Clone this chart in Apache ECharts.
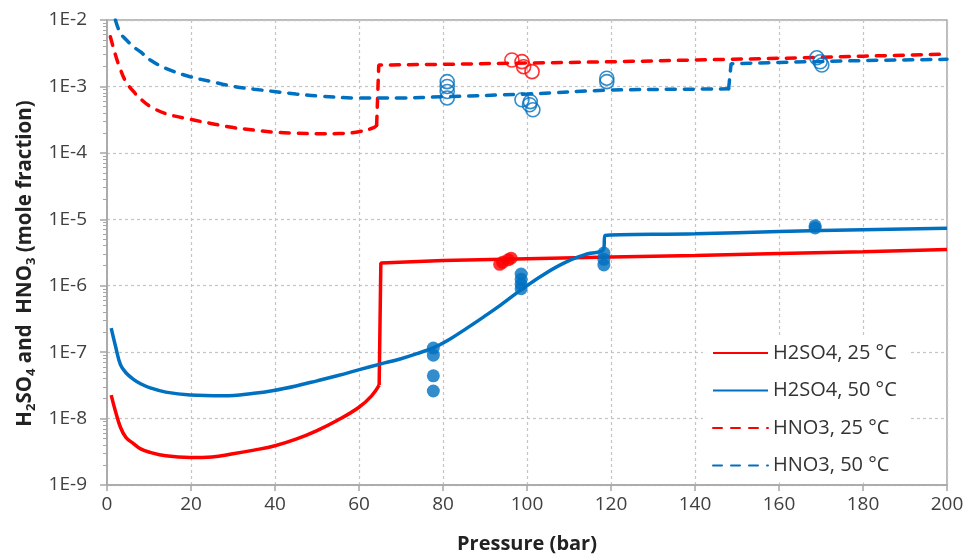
<!DOCTYPE html>
<html>
<head>
<meta charset="utf-8">
<script src="https://cdn.jsdelivr.net/npm/echarts@6/dist/echarts.min.js"></script>
<style>
html,body{margin:0;padding:0;background:#fff;}
#chart{width:970px;height:559px;}
</style>
</head>
<body>
<div id="chart"></div>
<script>
// ---- Data ----
const xTicks = [0, 20, 40, 60, 80, 100, 120, 140, 160, 180, 200];
const yTickLabels = ['1E-9','1E-8','1E-7','1E-6','1E-5','1E-4','1E-3','1E-2'];

// Model curves
const h2so4_25_x = [1, 2, 3.2, 4.5, 6.3, 8, 10.3, 14, 19.8, 25, 30, 35, 40, 45, 50, 55, 60, 63, 64.8, 65.2, 80, 100, 120, 140, 160, 180, 200];
const h2so4_25_y = [2.26e-8, 1.3e-8, 7.4e-9, 5.2e-9, 4.2e-9, 3.5e-9, 3.1e-9, 2.75e-9, 2.6e-9, 2.65e-9, 2.95e-9, 3.35e-9, 3.9e-9, 4.9e-9, 6.6e-9, 9.5e-9, 1.48e-8, 2.2e-8, 3.2e-8, 2.2e-6, 2.4e-6, 2.55e-6, 2.7e-6, 2.85e-6, 3.05e-6, 3.25e-6, 3.5e-6];

const h2so4_50_x = [1, 2, 3.2, 4.5, 6.3, 8, 10.3, 14, 19.8, 27.8, 35, 39.7, 45, 50, 55, 60.3, 65, 69.8, 73.8, 77.8, 81.7, 85.7, 89.7, 93.7, 98.4, 104, 109.5, 114.3, 118.2, 118.6, 140, 160, 180, 200];
const h2so4_50_y = [2.3e-7, 1.25e-7, 6.5e-8, 4.9e-8, 3.9e-8, 3.35e-8, 2.9e-8, 2.5e-8, 2.26e-8, 2.2e-8, 2.4e-8, 2.65e-8, 3.1e-8, 3.7e-8, 4.45e-8, 5.5e-8, 6.6e-8, 7.9e-8, 9.5e-8, 1.17e-7, 1.58e-7, 2.3e-7, 3.4e-7, 5.1e-7, 8.5e-7, 1.48e-6, 2.3e-6, 3.0e-6, 3.5e-6, 5.7e-6, 6.05e-6, 6.55e-6, 6.95e-6, 7.36e-6];

const hno3_25_x = [0.8, 2, 3.2, 4.5, 6.3, 8, 10.3, 14, 19.8, 25, 30.1, 35, 39.7, 45, 50, 55, 60.3, 63.5, 64.2, 64.7, 80, 100, 122, 140, 160, 180, 200];
const hno3_25_y = [5.6e-3, 3.0e-3, 1.8e-3, 1.18e-3, 8.4e-4, 6.5e-4, 5.0e-4, 3.9e-4, 3.2e-4, 2.75e-4, 2.4e-4, 2.2e-4, 2.05e-4, 1.98e-4, 1.94e-4, 1.95e-4, 2.1e-4, 2.4e-4, 2.6e-4, 2.1e-3, 2.15e-3, 2.25e-3, 2.36e-3, 2.5e-3, 2.65e-3, 2.85e-3, 3.07e-3];

const hno3_50_x = [2, 3.2, 4.5, 6.3, 8, 10.3, 14, 19.8, 25, 30.1, 35, 39.7, 45, 50, 60.3, 69.8, 80, 100, 120, 140, 148, 148.6, 160, 180, 200];
const hno3_50_y = [1.0e-2, 6.3e-3, 5.1e-3, 3.95e-3, 3.3e-3, 2.5e-3, 1.87e-3, 1.4e-3, 1.18e-3, 1.0e-3, 9.1e-4, 8.4e-4, 7.7e-4, 7.2e-4, 6.7e-4, 6.7e-4, 7.0e-4, 7.7e-4, 8.8e-4, 9.1e-4, 9.2e-4, 2.2e-3, 2.3e-3, 2.45e-3, 2.56e-3];

// Experimental points
const exp_h2so4_25_x = [93.5, 94.2, 95.5, 96.2];
const exp_h2so4_25_y = [2.1e-6, 2.25e-6, 2.45e-6, 2.6e-6];

const exp_h2so4_50_x = [77.7, 77.7, 77.7, 77.7, 98.6, 98.6, 98.6, 98.6, 118.3, 118.3, 118.3, 168.6, 168.6];
const exp_h2so4_50_y = [1.15e-7, 9.0e-8, 4.4e-8, 2.6e-8, 1.5e-6, 1.25e-6, 1.05e-6, 9.0e-7, 3.1e-6, 2.5e-6, 2.05e-6, 8.0e-6, 7.4e-6];

const exp_hno3_25_x = [96.4, 98.8, 99.2, 101.2];
const exp_hno3_25_y = [2.5e-3, 2.36e-3, 1.98e-3, 1.67e-3];

const exp_hno3_50_x = [81, 81, 81, 81, 98.8, 100.8, 101.4, 100.6, 119, 119, 169, 169.8, 170.2];
const exp_hno3_50_y = [1.18e-3, 1.0e-3, 8.4e-4, 6.7e-4, 6.3e-4, 5.9e-4, 4.45e-4, 5.3e-4, 1.33e-3, 1.18e-3, 2.7e-3, 2.35e-3, 2.1e-3];

const names = ['H2SO4, 25 °C', 'H2SO4, 50 °C', 'HNO3, 25 °C', 'HNO3, 50 °C'];
const minorMultipliers = [2, 3, 4, 5, 6, 7, 8, 9];

// ---- Build ----
const RED = '#FF0000';
const BLUE = '#0070C0';
const zip = (xs, ys) => xs.map((x, i) => [x, ys[i]]);
const minorVals = [];
for (let e = -9; e < -2; e++) {
  minorMultipliers.forEach(m => minorVals.push(m * Math.pow(10, e)));
}
const FONT = '"Open Sans", "Liberation Sans", sans-serif';

// index of the bottom of the vertical step (phase change) in a curve
function stepIndex(xs, ys) {
  for (let i = 0; i < xs.length - 1; i++) {
    if (xs[i + 1] - xs[i] < 1 && ys[i + 1] / ys[i] > 2) return i;
  }
  return xs.length - 1;
}

function lineStyleOf(color, dashed) {
  return dashed ? {color: color, width: 3.5, type: [9, 9], cap: 'round'} : {color: color, width: 3.5};
}
// Each model curve: smooth part up to the step, then the step and straight part.
function curveSeries(name, xs, ys, color, dashed) {
  const pts = zip(xs, ys);
  const k = stepIndex(xs, ys);
  const base = {
    name: name, type: 'line', symbol: 'none', z: 2, animation: false,
    lineStyle: lineStyleOf(color, dashed), itemStyle: {color: color}
  };
  return [
    Object.assign({}, base, {data: pts.slice(0, k + 1), smooth: 0.4}),
    Object.assign({}, base, {data: pts.slice(k), smooth: false})
  ];
}
function scatterSeries(name, xs, ys, color, filled) {
  return {
    name: name, type: 'scatter', data: zip(xs, ys),
    symbol: 'circle', symbolSize: filled ? 13 : 14,
    itemStyle: filled ? {color: color} : {color: 'rgba(255,255,255,0)', borderColor: color, borderWidth: 1.6},
    z: 3, animation: false
  };
}

const chart = echarts.init(document.getElementById('chart'), null, {renderer: 'canvas'});
chart.setOption({
  backgroundColor: '#fff',
  animation: false,
  grid: {left: 107, right: 23, top: 20, bottom: 71, show: true, borderColor: '#a6a6a6', borderWidth: 1.5, backgroundColor: 'transparent'},
  legend: {
    data: names,
    orient: 'vertical', left: 703, top: 338,
    padding: [4, 14, 6, 9],
    backgroundColor: '#fff',
    itemWidth: 55, itemHeight: 14, itemGap: 15.5,
    itemStyle: {opacity: 0},
    textStyle: {fontFamily: FONT, fontSize: 20, color: '#333', lineHeight: 22}
  },
  xAxis: {
    type: 'value', min: 0, max: 200, interval: 20,
    name: 'Pressure (bar)', nameLocation: 'middle', nameGap: 49,
    nameTextStyle: {fontFamily: FONT, fontSize: 20, fontWeight: 'bold', color: '#222'},
    axisLine: {show: true, lineStyle: {color: '#a6a6a6', width: 1.5}},
    axisTick: {show: true, length: 6, lineStyle: {color: '#a6a6a6', width: 1.5}},
    axisLabel: {fontFamily: FONT, fontSize: 19, color: '#404040', margin: 10,
      formatter: v => (xTicks.indexOf(v) >= 0 ? String(v) : '')},
    splitLine: {show: true, lineStyle: {color: '#c4c4c4', width: 1.2, type: [3, 3]}}
  },
  yAxis: [{
    type: 'log', logBase: 10, min: 1e-9, max: 1e-2, interval: 1, splitNumber: 7,
    name: '{m|H}{s|2}{m|SO}{s|4}{m| and  HNO}{s|3}{m| (mole fraction)}',
    nameLocation: 'middle', nameGap: 68, nameRotate: 90,
    nameTextStyle: {
      padding: [0, 22, 0, 0],
      rich: {
        m: {fontFamily: FONT, fontSize: 20.5, fontWeight: 'bold', color: '#222', lineHeight: 26, verticalAlign: 'middle'},
        s: {fontFamily: FONT, fontSize: 13, fontWeight: 'bold', color: '#222', lineHeight: 12, verticalAlign: 'bottom'}
      }
    },
    axisLine: {show: true, lineStyle: {color: '#a6a6a6', width: 1.5}},
    axisTick: {show: true, length: 7, lineStyle: {color: '#a6a6a6', width: 1.5}},
    axisLabel: {fontFamily: FONT, fontSize: 19, color: '#404040', margin: 20,
      formatter: v => yTickLabels[Math.round(Math.log10(v)) + 9] || ''},
    splitLine: {show: true, lineStyle: {color: '#c4c4c4', width: 1.2, type: [3, 3]}}
  }, {
    type: 'log', logBase: 10, min: 1e-9, max: 1e-2, position: 'left',
    axisLine: {show: false},
    axisLabel: {show: false},
    splitLine: {show: false},
    axisTick: {show: true, length: 4, customValues: minorVals, lineStyle: {color: '#a6a6a6', width: 1}}
  }],
  series: [].concat(
    curveSeries(names[0], h2so4_25_x, h2so4_25_y, RED, false),
    curveSeries(names[1], h2so4_50_x, h2so4_50_y, BLUE, false),
    curveSeries(names[2], hno3_25_x, hno3_25_y, RED, true),
    curveSeries(names[3], hno3_50_x, hno3_50_y, BLUE, true),
    [
      scatterSeries('exp H2SO4 25', exp_h2so4_25_x, exp_h2so4_25_y, RED, true),
      scatterSeries('exp H2SO4 50', exp_h2so4_50_x, exp_h2so4_50_y, BLUE, true),
      scatterSeries('exp HNO3 25', exp_hno3_25_x, exp_hno3_25_y, RED, false),
      scatterSeries('exp HNO3 50', exp_hno3_50_x, exp_hno3_50_y, BLUE, false)
    ]
  )
});
</script>
</body>
</html>
